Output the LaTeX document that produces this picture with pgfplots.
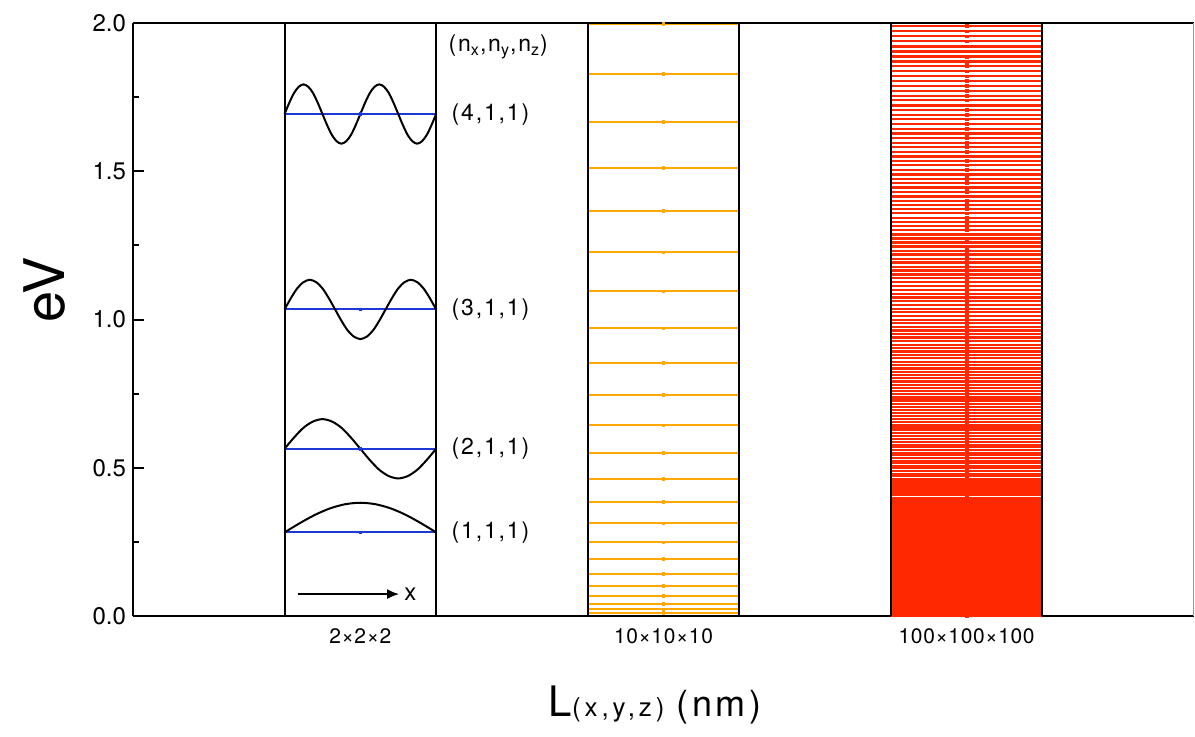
\documentclass[border=0pt]{standalone}
\usepackage{pgfplots}
\pgfplotsset{compat=1.18}
\usepackage{fontspec}
\setmainfont{TeX Gyre Heros}
\usetikzlibrary{arrows.meta}

\definecolor{levblue}{RGB}{30,55,215}
\definecolor{levorange}{RGB}{255,168,0}
\definecolor{levred}{RGB}{255,40,0}

% particle-in-a-box levels (n,1,1), one line per level
\pgfplotsset{
  level/.style 2 args={only marks, mark=square*, mark size=0.7pt, mark options={#1},
    error bars/.cd, x dir=both, x fixed=0.25, error mark=none,
    error bar style={line width=#2, #1}},
  wave/.style={black, line width=1pt, smooth, no markers},
  wall/.style={black, line width=1pt, no markers},
}

\begin{document}
\begin{tikzpicture}
\begin{axis}[
  scale only axis,
  width=530.5pt, height=296.5pt,
  xmin=0.25, xmax=3.75, ymin=0, ymax=2,
  clip=false,
  axis lines=left,
  axis line style={-, line width=1pt},
  tick align=inside,
  xtick={1,2,3},
  xticklabels={2×2×2,10×10×10,100×100×100},
  xtick style={draw=none},
  x tick label style={font=\fontsize{10.5}{12}\selectfont\addfontfeature{LetterSpace=3}, yshift=-3pt},
  ytick={0,0.5,1,1.5,2},
  minor ytick={0.25,0.75,1.25,1.75},
  major tick length=5.5pt, minor tick length=3pt,
  ytick style={black, line width=1pt},
  minor tick style={black, line width=1pt},
  y tick label style={font=\fontsize{12}{14}\selectfont,
    /pgf/number format/.cd, fixed, fixed zerofill, precision=1, assume math mode=true},
  ylabel={eV},
  ylabel style={at={(axis description cs:-0.083,0.55)}, anchor=center,
    font=\fontsize{28}{30}\selectfont},
  xlabel={L{\fontsize{13}{14}\selectfont\addfontfeature{LetterSpace=15}(x,y,z)}\hspace{6pt}{\fontsize{18}{20}\selectfont\addfontfeature{LetterSpace=10}(nm)}},
  xlabel style={at={(axis description cs:0.492,-0.170)}, anchor=base,
    font=\fontsize{21}{23}\selectfont},
]

% 100x100x100 nm box
\addplot[level={levred}{1.1pt}] coordinates {
(3,0.0001) (3,0.0002) (3,0.0004) (3,0.0007) (3,0.0010) (3,0.0014) (3,0.0019) (3,0.0025) (3,0.0031) (3,0.0038)
(3,0.0046) (3,0.0055) (3,0.0064) (3,0.0074) (3,0.0085) (3,0.0097) (3,0.0109) (3,0.0123) (3,0.0137) (3,0.0151)
(3,0.0167) (3,0.0183) (3,0.0200) (3,0.0217) (3,0.0236) (3,0.0255) (3,0.0275) (3,0.0296) (3,0.0317) (3,0.0339)
(3,0.0362) (3,0.0386) (3,0.0410) (3,0.0436) (3,0.0462) (3,0.0488) (3,0.0516) (3,0.0544) (3,0.0573) (3,0.0603)
(3,0.0633) (3,0.0664) (3,0.0696) (3,0.0729) (3,0.0762) (3,0.0797) (3,0.0832) (3,0.0867) (3,0.0904) (3,0.0941)
(3,0.0979) (3,0.1018) (3,0.1057) (3,0.1097) (3,0.1138) (3,0.1180) (3,0.1223) (3,0.1266) (3,0.1310) (3,0.1355)
(3,0.1400) (3,0.1446) (3,0.1494) (3,0.1541) (3,0.1590) (3,0.1639) (3,0.1689) (3,0.1740) (3,0.1791) (3,0.1844)
(3,0.1897) (3,0.1950) (3,0.2005) (3,0.2060) (3,0.2116) (3,0.2173) (3,0.2231) (3,0.2289) (3,0.2348) (3,0.2408)
(3,0.2468) (3,0.2530) (3,0.2592) (3,0.2654) (3,0.2718) (3,0.2782) (3,0.2847) (3,0.2913) (3,0.2980) (3,0.3047)
(3,0.3115) (3,0.3184) (3,0.3254) (3,0.3324) (3,0.3395) (3,0.3467) (3,0.3539) (3,0.3613) (3,0.3687) (3,0.3762)
(3,0.384) (3,0.391) (3,0.399) (3,0.407) (3,0.415) (3,0.423) (3,0.431) (3,0.439) (3,0.447) (3,0.455)
(3,0.463) (3,0.472) (3,0.480) (3,0.489) (3,0.498) (3,0.506) (3,0.515) (3,0.524) (3,0.533) (3,0.542)
(3,0.551) (3,0.560) (3,0.569) (3,0.578) (3,0.588) (3,0.597) (3,0.607) (3,0.616) (3,0.626) (3,0.636)
(3,0.645) (3,0.655) (3,0.665) (3,0.675) (3,0.686) (3,0.696) (3,0.706) (3,0.716) (3,0.727) (3,0.737)
(3,0.748) (3,0.758) (3,0.769) (3,0.780) (3,0.791) (3,0.802) (3,0.813) (3,0.824) (3,0.835) (3,0.846)
(3,0.858) (3,0.869) (3,0.880) (3,0.892) (3,0.904) (3,0.915) (3,0.927) (3,0.939) (3,0.951) (3,0.963)
(3,0.975) (3,0.987) (3,0.999) (3,1.012) (3,1.024) (3,1.036) (3,1.049) (3,1.062) (3,1.074) (3,1.087)
(3,1.100) (3,1.113) (3,1.126) (3,1.139) (3,1.152) (3,1.165) (3,1.178) (3,1.192) (3,1.205) (3,1.219)
(3,1.232) (3,1.246) (3,1.260) (3,1.273) (3,1.287) (3,1.301) (3,1.315) (3,1.329) (3,1.343) (3,1.358)
(3,1.372) (3,1.386) (3,1.401) (3,1.415) (3,1.430) (3,1.445) (3,1.460) (3,1.474) (3,1.489) (3,1.504)
(3,1.520) (3,1.535) (3,1.550) (3,1.565) (3,1.581) (3,1.596) (3,1.612) (3,1.627) (3,1.643) (3,1.659)
(3,1.675) (3,1.690) (3,1.706) (3,1.722) (3,1.739) (3,1.755) (3,1.771) (3,1.787) (3,1.804) (3,1.820)
(3,1.837) (3,1.854) (3,1.870) (3,1.887) (3,1.904) (3,1.921) (3,1.938) (3,1.955) (3,1.972) (3,1.990)
};

% 10x10x10 nm box
\addplot[level={levorange}{1pt}] coordinates {
(2,0.0113) (2,0.0226) (2,0.0414) (2,0.0677) (2,0.1015) (2,0.1429) (2,0.1918) (2,0.2482)
(2,0.3122) (2,0.3836) (2,0.4626) (2,0.5491) (2,0.6431) (2,0.7447) (2,0.8537) (2,0.9703)
(2,1.0945) (2,1.2261) (2,1.3652) (2,1.5119) (2,1.6661) (2,1.8278) (2,1.9971)
};

% 2x2x2 nm box
\addplot[level={levblue}{1.1pt}] coordinates {
(1,0.2821) (1,0.5642) (1,1.0343) (1,1.6925)
};

% wavefunctions
\addplot[wave] coordinates {
(0.75,0.282) (0.80,0.313) (0.85,0.341) (0.90,0.363) (0.95,0.377) (1.00,0.382)
(1.05,0.377) (1.10,0.363) (1.15,0.341) (1.20,0.313) (1.25,0.282)
};
\addplot[wave] coordinates {
(0.75,0.564) (0.78125,0.602) (0.8125,0.635) (0.84375,0.656) (0.875,0.664) (0.90625,0.656)
(0.9375,0.635) (0.96875,0.602) (1.0,0.564) (1.03125,0.526) (1.0625,0.493) (1.09375,0.472)
(1.125,0.464) (1.15625,0.472) (1.1875,0.493) (1.21875,0.526) (1.25,0.564)
};
\addplot[wave] coordinates {
(0.75,1.034) (0.7708,1.072) (0.7917,1.105) (0.8125,1.126) (0.8333,1.134) (0.8542,1.126)
(0.875,1.105) (0.8958,1.072) (0.9167,1.034) (0.9375,0.996) (0.9583,0.963) (0.9792,0.942)
(1.0,0.934) (1.0208,0.942) (1.0417,0.963) (1.0625,0.996) (1.0833,1.034) (1.1042,1.072)
(1.125,1.105) (1.1458,1.126) (1.1667,1.134) (1.1875,1.126) (1.2083,1.105) (1.2292,1.072) (1.25,1.034)
};
\addplot[wave] coordinates {
(0.75,1.693) (0.7656,1.731) (0.7813,1.764) (0.7969,1.785) (0.8125,1.793) (0.8281,1.785)
(0.8438,1.764) (0.8594,1.731) (0.875,1.693) (0.8906,1.655) (0.9063,1.622) (0.9219,1.601)
(0.9375,1.593) (0.9531,1.601) (0.9688,1.622) (0.9844,1.655) (1.0,1.693) (1.0156,1.731)
(1.0313,1.764) (1.0469,1.785) (1.0625,1.793) (1.0781,1.785) (1.0938,1.764) (1.1094,1.731)
(1.125,1.693) (1.1406,1.655) (1.1563,1.622) (1.1719,1.601) (1.1875,1.593) (1.2031,1.601)
(1.2188,1.622) (1.2344,1.655) (1.25,1.693)
};

% box walls
\addplot[wall] coordinates {(0.75,0) (0.75,2)};
\addplot[wall] coordinates {(1.25,0) (1.25,2)};
\addplot[wall] coordinates {(1.75,0) (1.75,2)};
\addplot[wall] coordinates {(2.25,0) (2.25,2)};
\addplot[wall] coordinates {(2.75,0) (2.75,2)};
\addplot[wall] coordinates {(3.25,0) (3.25,2)};

% frame top and right
\draw[line width=1pt] (rel axis cs:0,1) -- (rel axis cs:1,1);
\draw[black!40, line width=0.5pt] (rel axis cs:1,0) -- (rel axis cs:1,1);

% level labels
\begin{scope}[every node/.style={anchor=west, inner sep=0pt,
    font=\fontsize{11.5}{13}\selectfont\addfontfeature{LetterSpace=8}}]
\node at (axis cs:1.29,1.92) {(n\textsubscript{x},n\textsubscript{y},n\textsubscript{z})};
\node at (axis cs:1.30,1.6925) {(4,1,1)};
\node at (axis cs:1.30,1.0343) {(3,1,1)};
\node at (axis cs:1.30,0.5642) {(2,1,1)};
\node at (axis cs:1.30,0.2821) {(1,1,1)};
\end{scope}

% direction arrow
\draw[-{Latex[length=6pt,width=5pt]}, line width=1pt] (axis cs:0.793,0.074) -- (axis cs:1.128,0.074);
\node[font=\fontsize{12}{14}\selectfont, inner sep=0pt] at (axis cs:1.165,0.072) {x};

\end{axis}
\pgfresetboundingbox
\path (-66.5pt,-60pt) rectangle (531pt,308pt);
\end{tikzpicture}
\end{document}
